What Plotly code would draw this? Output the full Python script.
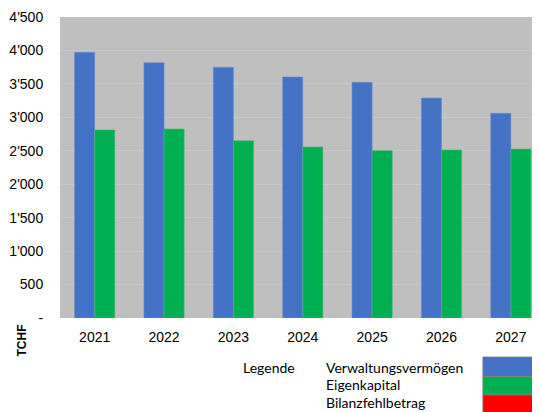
import plotly.graph_objects as go

years = ["2021", "2022", "2023", "2024", "2025", "2026", "2027"]
verwaltungsvermoegen = [3972, 3817, 3748, 3603, 3524, 3289, 3060]
eigenkapital = [2811, 2826, 2651, 2557, 2502, 2512, 2527]
y_tickvals = [0, 500, 1000, 1500, 2000, 2500, 3000, 3500, 4000, 4500]
y_ticktext = ["-", "500", "1'000", "1'500", "2'000", "2'500", "3'000", "3'500", "4'000", "4'500"]
legend_names = ["Verwaltungsvermögen", "Eigenkapital", "Bilanzfehlbetrag"]
legend_colors = ["#4472C4", "#00B050", "#FF0000"]

fig = go.Figure()
fig.add_trace(go.Bar(x=years, y=verwaltungsvermoegen, name=legend_names[0],
                     marker=dict(color=legend_colors[0], line=dict(color="#6f8fcf", width=0.6))))
fig.add_trace(go.Bar(x=years, y=eigenkapital, name=legend_names[1],
                     marker=dict(color=legend_colors[1], line=dict(color="#3fbf70", width=0.6))))

# page body has an 8px margin, so the figure is sized to fill the rest of the window
fig.update_layout(
    width=532, height=404,
    margin=dict(l=52, r=0, t=9, b=94),
    paper_bgcolor="white", plot_bgcolor="#BFBFBF",
    barmode="group", bargap=0.42, bargroupgap=0,
    showlegend=False,
    font=dict(family="Liberation Sans, Arial", color="#000000"),
)
fig.update_xaxes(range=[-0.5, 6.42], showgrid=False, zeroline=False,
                 tickfont=dict(size=14), ticks="outside", ticklen=6, tickcolor="rgba(0,0,0,0)")
fig.update_yaxes(range=[0, 4500], tickvals=y_tickvals, ticktext=y_ticktext,
                 showgrid=True, gridcolor="#C7C7C7", gridwidth=1, zeroline=False,
                 tickfont=dict(size=14), ticks="outside", ticklen=13, tickcolor="rgba(0,0,0,0)")

# TCHF label
fig.add_annotation(text="<b>TCHF</b>", xref="paper", yref="paper", x=-0.08, y=-0.076,
                   textangle=-90, showarrow=False, font=dict(size=12, family="Liberation Sans, Arial"),
                   xanchor="center", yanchor="middle")

# Custom legend
fig.add_annotation(text="Legende", xref="paper", yref="paper", x=0.377, y=-0.1628,
                   showarrow=False, xanchor="left", yanchor="middle",
                   font=dict(size=14, family="Lato, Carlito, Calibri"))
row_y = [-0.1628, -0.2193, -0.2791]
box_y = [(-0.1296, -0.1944), (-0.1944, -0.2558), (-0.2558, -0.33)]
for name, color, ty, (y0, y1) in zip(legend_names, legend_colors, row_y, box_y):
    fig.add_annotation(text=name, xref="paper", yref="paper", x=0.55, y=ty,
                       showarrow=False, xanchor="left", yanchor="middle",
                       font=dict(size=14, family="Lato, Carlito, Calibri"))
    fig.add_shape(type="rect", xref="paper", yref="paper", x0=0.881, x1=0.985, y0=y1, y1=y0,
                  fillcolor=color, line=dict(color="#7f7f7f", width=0.8))

fig.write_html("out.html")
